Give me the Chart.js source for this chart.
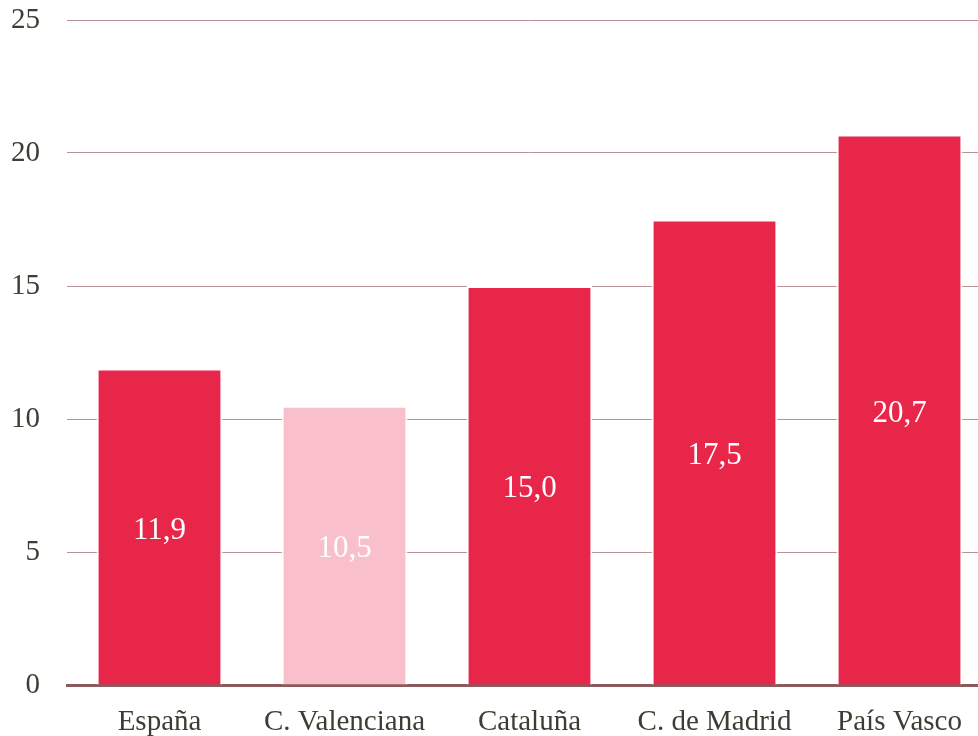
<!DOCTYPE html>
<html>
<head>
<meta charset="utf-8">
<script src="https://cdn.jsdelivr.net/npm/chart.js@4.4.0/dist/chart.umd.min.js"></script>
<style>
  html, body { margin: 0; padding: 0; background: #fff; overflow: hidden; }
  #wrap { width: 992px; height: 736px; }
</style>
</head>
<body>
<div id="wrap"><canvas id="barChart" width="992" height="736"></canvas></div>
<script>
// Data
const regions = ['España', 'C. Valenciana', 'Cataluña', 'C. de Madrid', 'País Vasco'];
const values = [11.9, 10.5, 15.0, 17.5, 20.7];
const yTicks = [0, 5, 10, 15, 20, 25];

const RED = '#E8264A';
const PINK = '#F9BFCA';
const barColors = regions.map(r => r === 'C. Valenciana' ? PINK : RED);
const SERIF = '"Liberation Serif", "Times New Roman", serif';

// writes each value in the middle of its bar, with a decimal comma
const valueLabels = {
    id: 'valueLabels',
    afterDatasetsDraw(chart) {
        const c = chart.ctx;
        const meta = chart.getDatasetMeta(0);
        c.save();
        c.fillStyle = '#ffffff';
        c.font = '31px ' + SERIF;
        c.textAlign = 'center';
        c.textBaseline = 'middle';
        meta.data.forEach((bar, i) => {
            const mid = (bar.y + bar.base) / 2 + 4;
            c.fillText(values[i].toFixed(1).replace('.', ','), bar.x, mid);
        });
        c.restore();
    }
};

const ctx = document.getElementById('barChart').getContext('2d');
const barChart = new Chart(ctx, {
    type: 'bar',
    data: {
        labels: regions,
        datasets: [{
            data: values,
            backgroundColor: barColors,
            borderColor: '#ffffff',
            borderWidth: 2,
            borderSkipped: 'start',
            barPercentage: 0.68,
            categoryPercentage: 1.0
        }]
    },
    options: {
        responsive: false,
        animation: false,
        layout: { padding: 0 },
        plugins: {
            legend: { display: false },
            tooltip: { enabled: false }
        },
        scales: {
            x: {
                grid: { display: false, drawTicks: false },
                border: { color: '#8B5A5D', width: 3 },
                ticks: {
                    color: '#3D3D33',
                    padding: 20,
                    maxRotation: 0,
                    font: { family: SERIF, size: 29 }
                },
                afterFit(scale) { scale.height = 51; }
            },
            y: {
                min: 0,
                max: 25,
                afterBuildTicks(scale) { scale.ticks = yTicks.map(v => ({ value: v })); },
                grid: { color: '#B79395', lineWidth: 1, drawTicks: false },
                border: { display: false },
                ticks: {
                    color: '#3D3D33',
                    padding: 27,
                    font: { family: SERIF, size: 29 }
                },
                afterFit(scale) {
                    scale.width = 67;
                    scale.paddingTop = 20;
                    scale.paddingBottom = 0;
                }
            }
        }
    },
    plugins: [valueLabels]
});
</script>
</body>
</html>
